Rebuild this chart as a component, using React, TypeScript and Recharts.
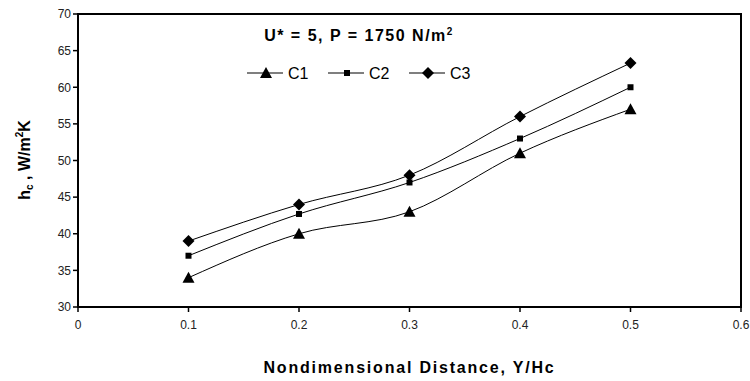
import React from 'react';
import {
  LineChart,
  Line,
  XAxis,
  YAxis,
  ReferenceArea,
} from 'recharts';

const distances = [0.1, 0.2, 0.3, 0.4, 0.5];
const c1 = [34, 40, 43, 51, 57];
const c2 = [37, 42.7, 47, 53, 60];
const c3 = [39, 44, 48, 56, 63.3];
const seriesNames = ['C1', 'C2', 'C3'];
const xTicks = [0, 0.1, 0.2, 0.3, 0.4, 0.5, 0.6];
const yTicks = [30, 35, 40, 45, 50, 55, 60, 65, 70];

const data = distances.map((d, i) => ({ d, C1: c1[i], C2: c2[i], C3: c3[i] }));

const FONT = 'Liberation Sans, Arial, sans-serif';

const marker = (kind: string, cx: number, cy: number, key?: any) => {
  if (kind === 'C1') {
    return <polygon key={key} points={`${cx},${cy - 6} ${cx + 6},${cy + 5} ${cx - 6},${cy + 5}`} fill="#000" />;
  }
  if (kind === 'C2') {
    return <rect key={key} x={cx - 3} y={cy - 3} width={6} height={6} fill="#000" />;
  }
  return <polygon key={key} points={`${cx},${cy - 6} ${cx + 6},${cy} ${cx},${cy + 6} ${cx - 6},${cy}`} fill="#000" />;
};

const dotFor = (kind: string) => (props: any) => marker(kind, props.cx, props.cy, `${kind}-${props.index}`);

export default function App() {
  return (
    <div style={{ position: 'absolute', left: 0, top: 0, width: 750, height: 381, background: '#fff' }}>
      <LineChart
        width={750}
        height={381}
        data={data}
        margin={{ top: 14, right: 9, left: 0, bottom: 0 }}
        style={{ fontFamily: FONT }}
      >
        <XAxis
          dataKey="d"
          type="number"
          domain={[0, 0.6]}
          ticks={xTicks}
          height={74}
          axisLine={{ stroke: '#000', strokeWidth: 2 }}
          tickLine={{ stroke: '#000', strokeWidth: 1.5 }}
          tickSize={5}
          tick={{ fill: '#222', fontSize: 12, dy: 6, fontFamily: FONT }}
          label={{
            value: 'Nondimensional Distance, Y/Hc',
            position: 'insideBottom',
            offset: 8,
            style: { fill: '#000', fontSize: 16, fontWeight: 'bold', letterSpacing: 1.8, fontFamily: FONT },
          }}
        />
        <YAxis
          type="number"
          domain={[30, 70]}
          ticks={yTicks}
          width={78}
          axisLine={{ stroke: '#000', strokeWidth: 2 }}
          tickLine={{ stroke: '#000', strokeWidth: 1.5 }}
          tickSize={5}
          tick={{ fill: '#222', fontSize: 12, fontFamily: FONT }}
        />
        <ReferenceArea x1={0} x2={0.6} y1={30} y2={70} fill="none" stroke="#000" strokeWidth={2} ifOverflow="visible" />
        <Line type="monotone" dataKey="C1" stroke="#000" strokeWidth={1} dot={dotFor('C1')} isAnimationActive={false} />
        <Line type="monotone" dataKey="C2" stroke="#000" strokeWidth={1} dot={dotFor('C2')} isAnimationActive={false} />
        <Line type="monotone" dataKey="C3" stroke="#000" strokeWidth={1} dot={dotFor('C3')} isAnimationActive={false} />
        <text
          transform="translate(30,160) rotate(-90)"
          textAnchor="middle"
          fontSize={16}
          fontWeight="bold"
          fontFamily={FONT}
          fill="#000"
        >
          h<tspan fontSize={10} dy={3}>c</tspan>
          <tspan dy={-3}> , W/m</tspan>
          <tspan fontSize={10} dy={-7}>2</tspan>
          <tspan dy={7}>K</tspan>
        </text>
        <text x={359} y={41} textAnchor="middle" fontSize={16} fontWeight="bold" fontFamily={FONT} letterSpacing={1.5} fill="#000">
          U* = 5, P = 1750 N/m
          <tspan dy={-6} fontSize={10}>2</tspan>
        </text>
        <g>
          {seriesNames.map((k, i) => {
            const x0 = 247 + i * 81;
            return (
              <g key={k}>
                <line x1={x0} x2={x0 + 36} y1={73} y2={73} stroke="#000" strokeWidth={1.2} />
                {marker(k, x0 + 19, 73)}
                <text x={x0 + 41} y={79} fontFamily={FONT} fontSize={16} fill="#000">
                  {k}
                </text>
              </g>
            );
          })}
        </g>
      </LineChart>
    </div>
  );
}
